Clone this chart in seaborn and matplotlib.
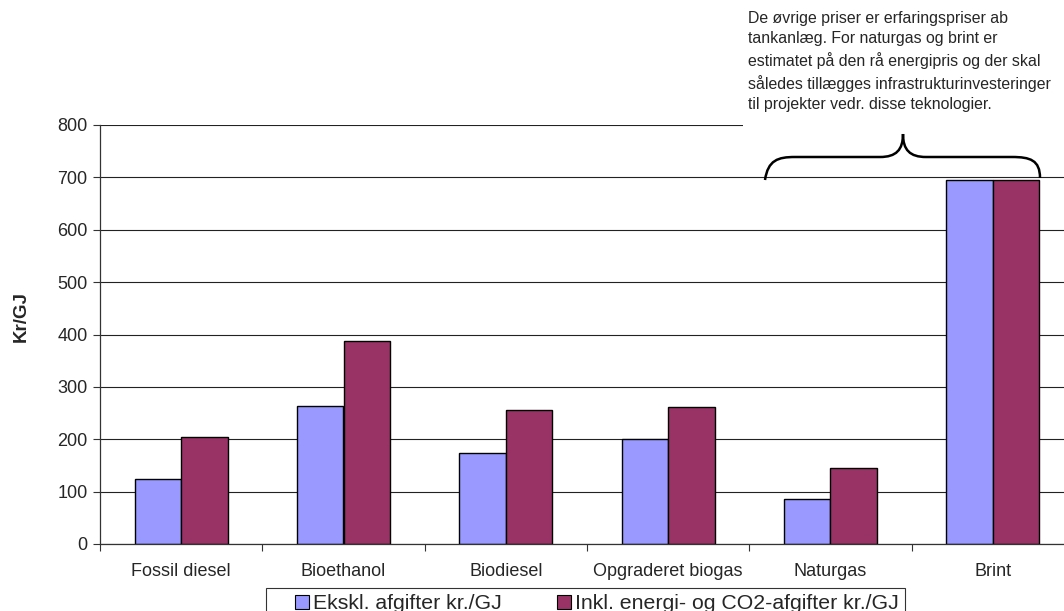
import matplotlib
matplotlib.use("Agg")
import matplotlib.pyplot as plt
from matplotlib.path import Path
from matplotlib.patches import PathPatch, Rectangle
from matplotlib.lines import Line2D
import seaborn as sns
import pandas as pd

categories = ["Fossil diesel", "Bioethanol", "Biodiesel", "Opgraderet biogas", "Naturgas", "Brint"]
ekskl = [124, 263, 174, 200, 86, 695]
inkl = [204, 387, 256, 261, 145, 695]
series_names = ["Ekskl. afgifter kr./GJ", "Inkl. energi- og CO2-afgifter kr./GJ"]
series_colors = ["#9999FF", "#993366"]
y_ticks = [0, 100, 200, 300, 400, 500, 600, 700, 800]
note = ("De øvrige priser er erfaringspriser ab\n"
        "tankanlæg. For naturgas og brint er\n"
        "estimatet på den rå energipris og der skal\n"
        "således tillægges infrastrukturinvesteringer\n"
        "til projekter vedr. disse teknologier.")

df = pd.DataFrame({
    "Kategori": categories * 2,
    "Serie": [series_names[0]] * len(categories) + [series_names[1]] * len(categories),
    "Værdi": ekskl + inkl,
})

sns.set_style("white")
plt.rcParams["font.family"] = ["Liberation Sans", "DejaVu Sans"]

W, H = 1064, 611
fig = plt.figure(figsize=(W / 100, H / 100), dpi=100)
ax = fig.add_axes([100 / W, (H - 544) / H, 974 / W, (544 - 125) / H])

sns.barplot(data=df, x="Kategori", y="Værdi", hue="Serie", order=categories,
            hue_order=series_names, palette=series_colors,
            width=0.574, edgecolor="black", linewidth=1.0, saturation=1,
            legend=False, ax=ax)

ax.set_xlim(-0.5, len(categories) - 0.5)
ax.set_ylim(0, 800)
ax.set_yticks(y_ticks)
ax.set_yticklabels([str(t) for t in y_ticks], fontsize=13)
ax.yaxis.grid(True, color="#222222", linewidth=0.8)
ax.set_axisbelow(True)

# category boundaries carry the tick marks, centres carry the labels
ax.set_xticks([i - 0.5 for i in range(len(categories) + 1)])
ax.set_xticklabels([])
ax.set_xticks(range(len(categories)), minor=True)
ax.set_xticklabels(categories, minor=True, fontsize=13)
ax.tick_params(axis="x", which="major", length=5, width=0.8, color="#333333", direction="out", bottom=True)
ax.tick_params(axis="x", which="minor", length=0, pad=14)
ax.tick_params(axis="y", length=5, width=0.8, color="#333333", direction="out", left=True, pad=4)

for side in ["top", "right"]:
    ax.spines[side].set_visible(False)
for side in ["left", "bottom"]:
    ax.spines[side].set_color("#333333")
    ax.spines[side].set_linewidth(0.9)

ax.set_xlabel("")
ax.set_ylabel("Kr/GJ", fontsize=13.5, fontweight="bold")
ax.yaxis.set_label_coords((30 - 100) / 974, (544 - 316) / 419)

# legend, partly running off the bottom edge
handles = [Line2D([], [], marker="s", linestyle="none", markersize=10,
                  markerfacecolor=c, markeredgecolor="black", markeredgewidth=0.8)
           for c in series_colors]
leg = fig.legend(handles, series_names, loc="upper left", ncol=2,
                 bbox_to_anchor=(266 / W, 1 - 588 / H), bbox_transform=fig.transFigure,
                 borderaxespad=0, fontsize=15.3, frameon=True, fancybox=False,
                 borderpad=0.3, handletextpad=-0.875, columnspacing=1.5,
                 handlelength=2.8)
leg.get_frame().set_edgecolor("black")
leg.get_frame().set_linewidth(0.8)

# note box in the upper right corner
fig.add_artist(Rectangle((743 / W, 1 - 131 / H), (W - 743) / W, 131 / H,
                         transform=fig.transFigure, facecolor="white",
                         edgecolor="none", zorder=5))
fig.text(748 / W, 1 - 11 / H, note, ha="left", va="top", fontsize=11.4,
         linespacing=1.42, zorder=6)

# curly brace over Naturgas and Brint
def px(x, y):
    return (x / W, 1 - y / H)

verts = [px(765, 180),
         px(768, 160), px(778, 157), px(795, 157),
         px(880, 157),
         px(896, 157), px(903, 150), px(903, 134),
         px(903, 150), px(910, 157), px(926, 157),
         px(1012, 157),
         px(1030, 157), px(1040, 160), px(1040, 178)]
codes = [Path.MOVETO,
         Path.CURVE4, Path.CURVE4, Path.CURVE4,
         Path.LINETO,
         Path.CURVE4, Path.CURVE4, Path.CURVE4,
         Path.CURVE4, Path.CURVE4, Path.CURVE4,
         Path.LINETO,
         Path.CURVE4, Path.CURVE4, Path.CURVE4]
fig.add_artist(PathPatch(Path(verts, codes), transform=fig.transFigure,
                         facecolor="none", edgecolor="black", linewidth=1.8, zorder=6))

fig.savefig("out.png", dpi=100)
